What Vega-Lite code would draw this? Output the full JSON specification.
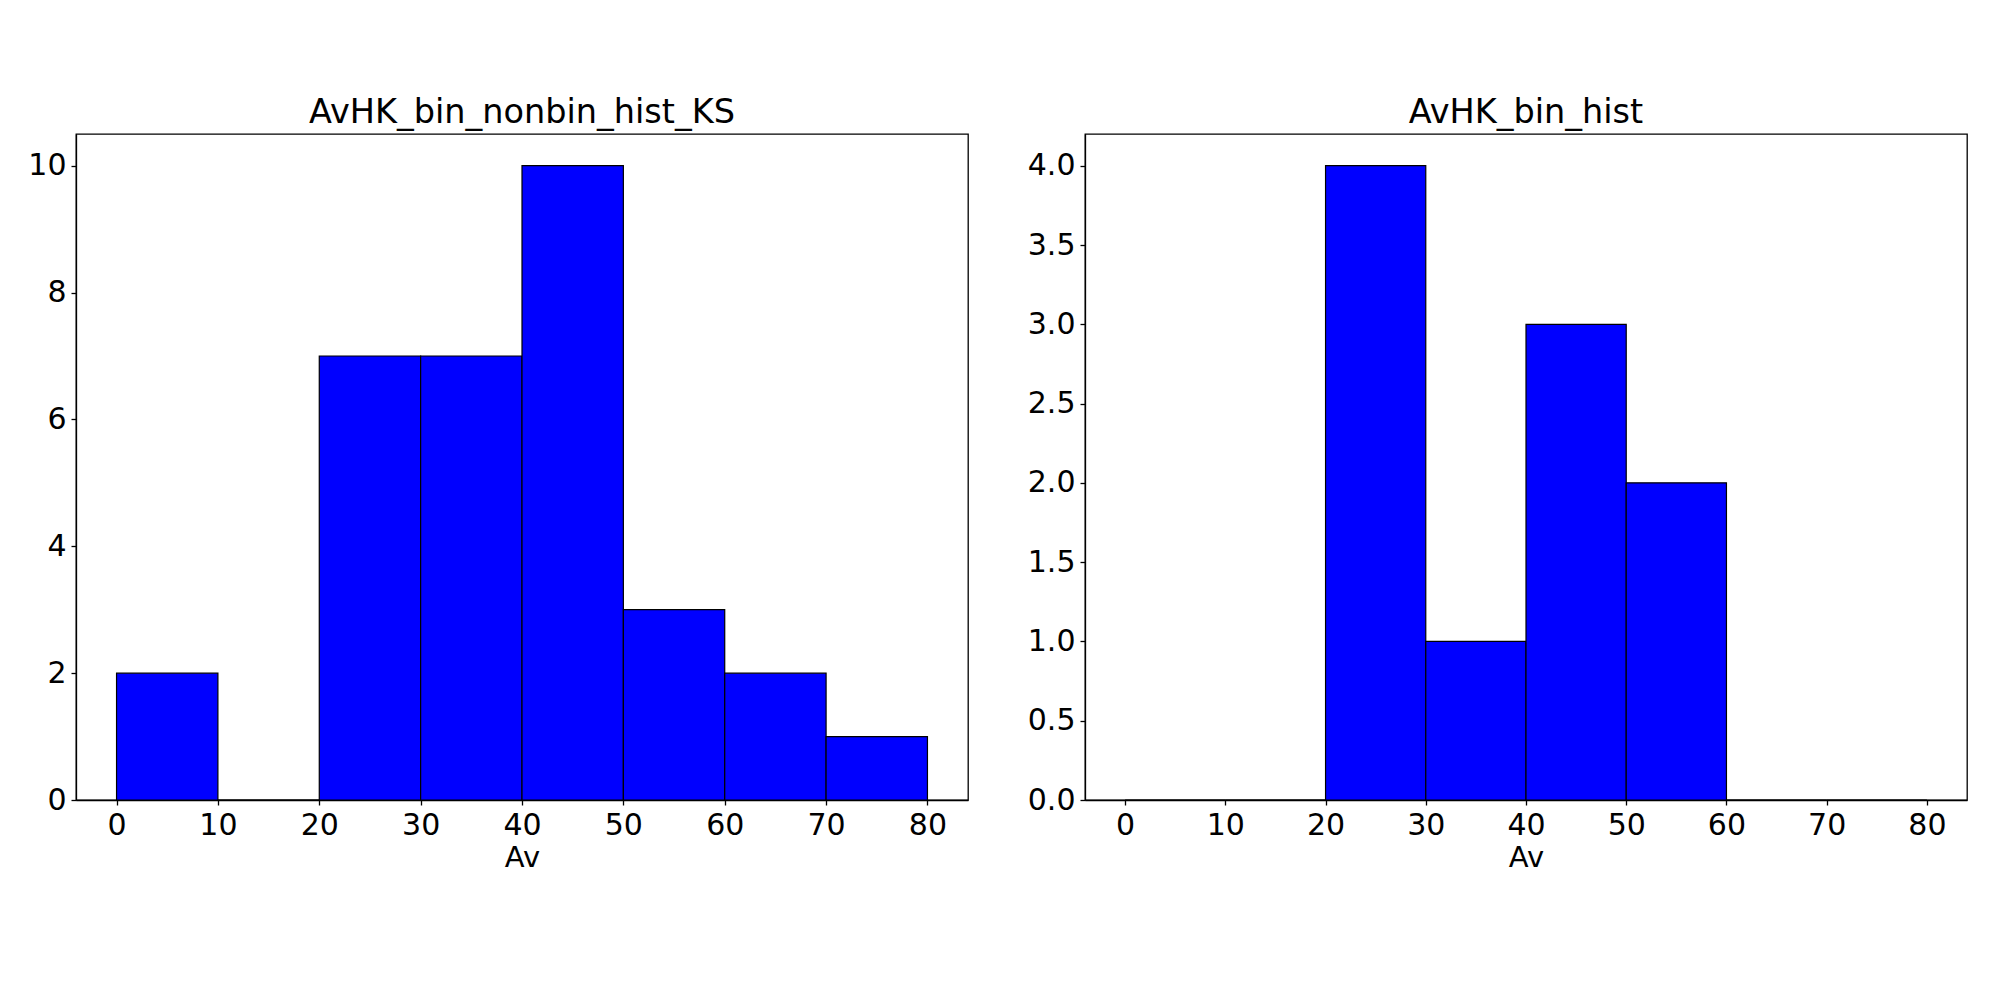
{
  "$schema": "https://vega.github.io/schema/vega-lite/v6.json",
  "background": "white",
  "padding": {"left": 27, "top": 94, "right": 5, "bottom": 5},
  "spacing": 57,
  "config": {
    "font": "DejaVu Sans",
    "view": {"stroke": "black", "strokeWidth": 1.3},
    "axis": {
      "grid": false,
      "domainColor": "black",
      "domainWidth": 1.3,
      "tickColor": "black",
      "tickWidth": 1.3,
      "tickSize": 5,
      "labelFontSize": 30,
      "labelColor": "black",
      "labelPadding": 5,
      "titleFontSize": 29,
      "titleColor": "black",
      "titleFontWeight": "normal",
      "titlePadding": 3,
      "labelFont": "DejaVu Sans",
      "titleFont": "DejaVu Sans"
    },
    "title": {"fontSize": 33.5, "fontWeight": "normal", "color": "black", "offset": 4, "font": "DejaVu Sans"}
  },
  "datasets": {
    "left": [
      {"bin_start": 0, "bin_end": 10, "count": 2},
      {"bin_start": 10, "bin_end": 20, "count": 0},
      {"bin_start": 20, "bin_end": 30, "count": 7},
      {"bin_start": 30, "bin_end": 40, "count": 7},
      {"bin_start": 40, "bin_end": 50, "count": 10},
      {"bin_start": 50, "bin_end": 60, "count": 3},
      {"bin_start": 60, "bin_end": 70, "count": 2},
      {"bin_start": 70, "bin_end": 80, "count": 1}
    ],
    "right": [
      {"bin_start": 0, "bin_end": 10, "count": 0},
      {"bin_start": 10, "bin_end": 20, "count": 0},
      {"bin_start": 20, "bin_end": 30, "count": 4},
      {"bin_start": 30, "bin_end": 40, "count": 1},
      {"bin_start": 40, "bin_end": 50, "count": 3},
      {"bin_start": 50, "bin_end": 60, "count": 2},
      {"bin_start": 60, "bin_end": 70, "count": 0},
      {"bin_start": 70, "bin_end": 80, "count": 0}
    ]
  },
  "hconcat": [
    {
      "title": "AvHK_bin_nonbin_hist_KS",
      "width": 892,
      "height": 666,
      "data": {"name": "left"},
      "mark": {"type": "rect", "fill": "blue", "stroke": "black", "strokeWidth": 1.2},
      "encoding": {
        "x": {"field": "bin_start", "type": "quantitative", "title": "Av",
              "scale": {"domain": [-4, 84], "nice": false, "zero": false},
              "axis": {"values": [0, 10, 20, 30, 40, 50, 60, 70, 80]}},
        "x2": {"field": "bin_end"},
        "y": {"field": "count", "type": "quantitative", "title": null,
              "scale": {"domain": [0, 10.5], "nice": false},
              "axis": {"values": [0, 2, 4, 6, 8, 10]}},
        "y2": {"datum": 0}
      }
    },
    {
      "title": "AvHK_bin_hist",
      "width": 882,
      "height": 666,
      "data": {"name": "right"},
      "mark": {"type": "rect", "fill": "blue", "stroke": "black", "strokeWidth": 1.2},
      "encoding": {
        "x": {"field": "bin_start", "type": "quantitative", "title": "Av",
              "scale": {"domain": [-4, 84], "nice": false, "zero": false},
              "axis": {"values": [0, 10, 20, 30, 40, 50, 60, 70, 80]}},
        "x2": {"field": "bin_end"},
        "y": {"field": "count", "type": "quantitative", "title": null,
              "scale": {"domain": [0, 4.2], "nice": false},
              "axis": {"values": [0, 0.5, 1, 1.5, 2, 2.5, 3, 3.5, 4], "format": ".1f"}},
        "y2": {"datum": 0}
      }
    }
  ]
}
